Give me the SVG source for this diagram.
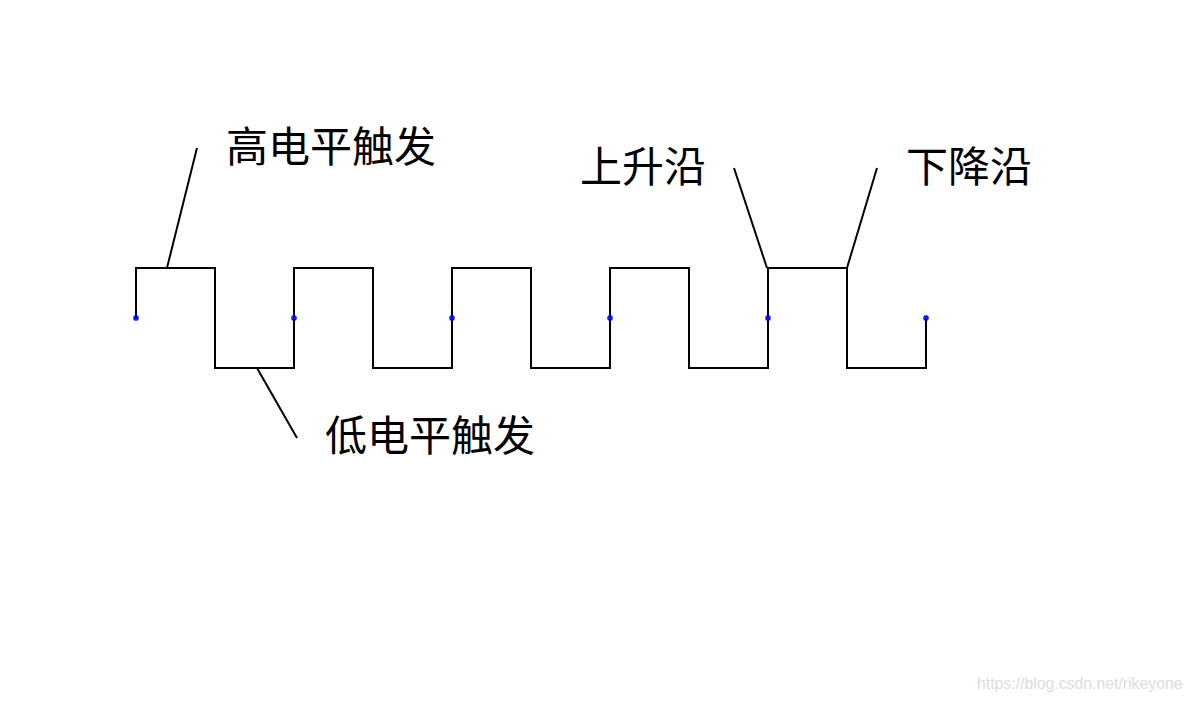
<svg xmlns="http://www.w3.org/2000/svg" width="1192" height="702" viewBox="0 0 1192 702">
<style>
.w{fill:none;stroke:#000;stroke-width:2}
.l{stroke:#000;stroke-width:2}
.t{font-family:"Noto Sans CJK SC","Noto Sans CJK JP",sans-serif;font-size:42px;fill:#000}
.m{stroke:#0000ff;stroke-width:1.4}
.wm{font-family:"Liberation Sans",Arial,sans-serif;font-size:15.8px;fill:#dcdcdc}
</style>
<defs>
<g id="star"><line class="m" x1="-3" y1="0" x2="3" y2="0"/><line class="m" x1="0" y1="-3" x2="0" y2="3"/><line class="m" x1="-2.2" y1="-2.2" x2="2.2" y2="2.2"/><line class="m" x1="-2.2" y1="2.2" x2="2.2" y2="-2.2"/></g>
</defs>
<rect width="1192" height="702" fill="#fff"/>
<g id="waveform">
<path class="w" d="M136,318 V268 H215 V368 H294 V268 H373 V368 H452 V268 H531 V368 H610 V268 H689 V368 H768 V268 H847 V368 H926 V318"/>
</g>
<g id="markers">
<use href="#star" x="136" y="318"/>
<use href="#star" x="294" y="318"/>
<use href="#star" x="452" y="318"/>
<use href="#star" x="610" y="318"/>
<use href="#star" x="768" y="318"/>
<use href="#star" x="926" y="318"/>
</g>
<g id="connectors">
<line class="l" x1="197" y1="148" x2="167" y2="268"/>
<line class="l" x1="257" y1="368" x2="297" y2="438"/>
<line class="l" x1="734" y1="168" x2="767" y2="268"/>
<line class="l" x1="877" y1="168" x2="847" y2="268"/>
</g>
<g id="label-high"><text class="t" x="226" y="162">高电平触发</text></g>
<g id="label-low"><text class="t" x="325" y="451">低电平触发</text></g>
<g id="label-rise"><text class="t" x="580" y="182">上升沿</text></g>
<g id="label-fall"><text class="t" x="906" y="182">下降沿</text></g>
<text class="wm" x="977" y="689">https://blog.csdn.net/rikeyone</text>
</svg>
